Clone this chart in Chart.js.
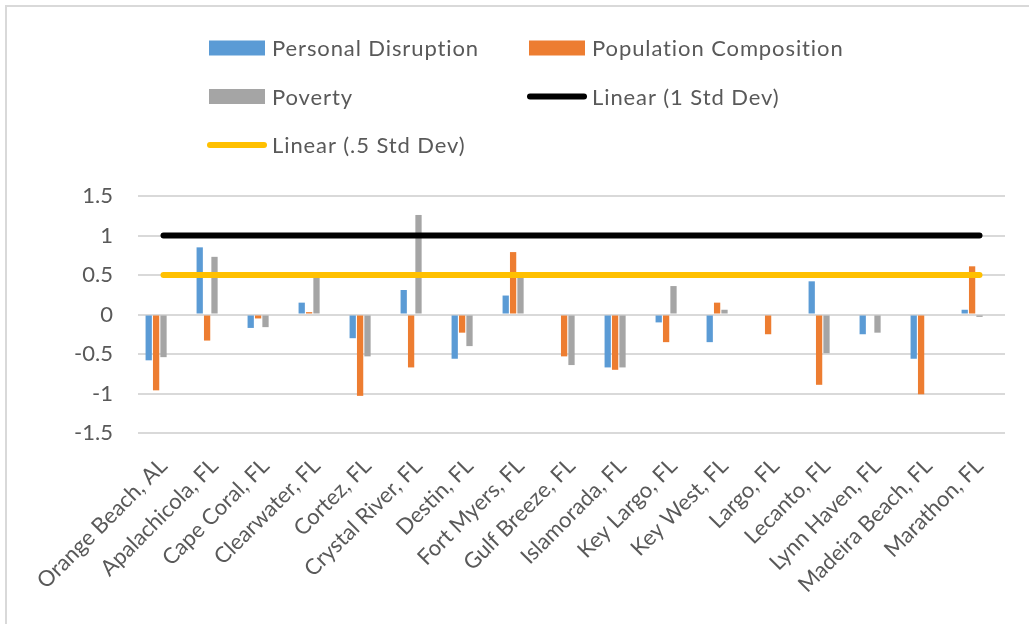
<!DOCTYPE html>
<html lang="en">
<head>
<meta charset="UTF-8">
<title>Disruption, composition and poverty by community</title>
<script src="https://cdn.jsdelivr.net/npm/chart.js"></script>
<style>
  html, body { margin: 0; padding: 0; background: #fff; }
  .frame { position: absolute; left: 5px; top: 5px; right: 0; bottom: 0; border-top: 2px solid #d9d9d9; border-left: 2px solid #d9d9d9; }
  .wrap { position: absolute; left: 0; top: 0; width: 1029px; height: 624px; }
</style>
</head>
<body>
<div class="frame"></div>
<div class="wrap"><canvas id="chart" width="1029" height="624"></canvas></div>
<script>
const places = ['Orange Beach, AL', 'Apalachicola, FL', 'Cape Coral, FL', 'Clearwater, FL', 'Cortez, FL',
  'Crystal River, FL', 'Destin, FL', 'Fort Myers, FL', 'Gulf Breeze, FL', 'Islamorada, FL', 'Key Largo, FL',
  'Key West, FL', 'Largo, FL', 'Lecanto, FL', 'Lynn Haven, FL', 'Madeira Beach, FL', 'Marathon, FL'];

const personalDisruption    = [-0.58, 0.85, -0.17, 0.15, -0.30, 0.31, -0.56, 0.24, 0, -0.67, -0.10, -0.35, 0, 0.42, -0.25, -0.56, 0.06];
const populationComposition = [-0.96, -0.33, -0.05, 0.03, -1.03, -0.67, -0.23, 0.79, -0.53, -0.70, -0.35, 0.15, -0.25, -0.89, 0, -1.01, 0.61];
const poverty               = [-0.54, 0.73, -0.16, 0.47, -0.53, 1.26, -0.40, 0.47, -0.64, -0.67, 0.36, 0.06, 0, -0.49, -0.23, 0, -0.03];
const oneStdDev  = [1, 1, 1, 1, 1, 1, 1, 1, 1, 1, 1, 1, 1, 1, 1, 1, 1];
const halfStdDev = [0.5, 0.5, 0.5, 0.5, 0.5, 0.5, 0.5, 0.5, 0.5, 0.5, 0.5, 0.5, 0.5, 0.5, 0.5, 0.5, 0.5];

const yMin = -1.5, yMax = 1.5, yStep = 0.5;

// legend laid out in two fixed columns, like the Excel original
const legendGrid = {
  id: 'legendGrid',
  afterDraw(chart) {
    const ctx = chart.ctx;
    const items = chart.data.datasets.filter(d => d.inLegend);
    items.forEach((d, i) => {
      const x = i % 2 === 0 ? 209 : 529;
      const y = 48 + Math.floor(i / 2) * 48.5;
      ctx.save();
      if (d.type === 'line') {
        ctx.strokeStyle = d.borderColor;
        ctx.lineWidth = 6;
        ctx.lineCap = 'round';
        ctx.beginPath();
        ctx.moveTo(x + 1, y);
        ctx.lineTo(x + 55, y);
        ctx.stroke();
      } else {
        ctx.fillStyle = d.backgroundColor;
        ctx.fillRect(x, y - 7.5, 56, 15);
      }
      ctx.fillStyle = '#595959';
      ctx.font = '22px Lato';
      ctx.letterSpacing = '0.9px';
      ctx.textBaseline = 'middle';
      ctx.fillText(d.label, x + 63, y + 1);
      ctx.restore();
    });
  }
};

new Chart(document.getElementById('chart'), {
  data: {
    labels: places,
    datasets: [
      { type: 'bar', label: 'Personal Disruption', data: personalDisruption, backgroundColor: '#5B9BD5', order: 1, inLegend: true },
      { type: 'bar', label: 'Population Composition', data: populationComposition, backgroundColor: '#ED7D31', order: 1, inLegend: true },
      { type: 'bar', label: 'Poverty', data: poverty, backgroundColor: '#A5A5A5', order: 1, inLegend: true },
      // the std dev series are plotted as unfilled bars, only their trendlines show
      { type: 'bar', label: '1 Std Dev', data: oneStdDev, backgroundColor: 'rgba(0,0,0,0)', order: 1 },
      { type: 'bar', label: '.5 Std Dev', data: halfStdDev, backgroundColor: 'rgba(0,0,0,0)', order: 1 },
      { type: 'line', label: 'Linear (1 Std Dev)', data: oneStdDev, borderColor: '#000000', borderWidth: 6,
        borderCapStyle: 'round', pointRadius: 0, fill: false, order: 0, inLegend: true },
      { type: 'line', label: 'Linear (.5 Std Dev)', data: halfStdDev, borderColor: '#FFC000', borderWidth: 6,
        borderCapStyle: 'round', pointRadius: 0, fill: false, order: 0, inLegend: true }
    ]
  },
  options: {
    responsive: false,
    animation: false,
    devicePixelRatio: 1,
    layout: { padding: { top: 196, right: 24, left: 0, bottom: 0 } },
    datasets: { bar: { categoryPercentage: 0.725, barPercentage: 0.85 } },
    plugins: { legend: { display: false }, tooltip: { enabled: false } },
    scales: {
      x: {
        grid: { display: false, drawTicks: false },
        border: { display: false },
        ticks: { color: '#595959', font: { family: 'Lato', size: 22 }, minRotation: 45, maxRotation: 45, padding: 20, autoSkip: false },
        afterFit(s) { s.height = 191; }
      },
      y: {
        min: yMin, max: yMax,
        grid: { color: '#d9d9d9', lineWidth: 2, drawTicks: false },
        border: { display: false },
        ticks: { stepSize: yStep, color: '#595959', font: { family: 'Lato', size: 22 }, padding: 25,
          callback: v => String(v) },
        afterFit(s) { s.width = 138; }
      }
    }
  },
  plugins: [legendGrid]
});
</script>
</body>
</html>
